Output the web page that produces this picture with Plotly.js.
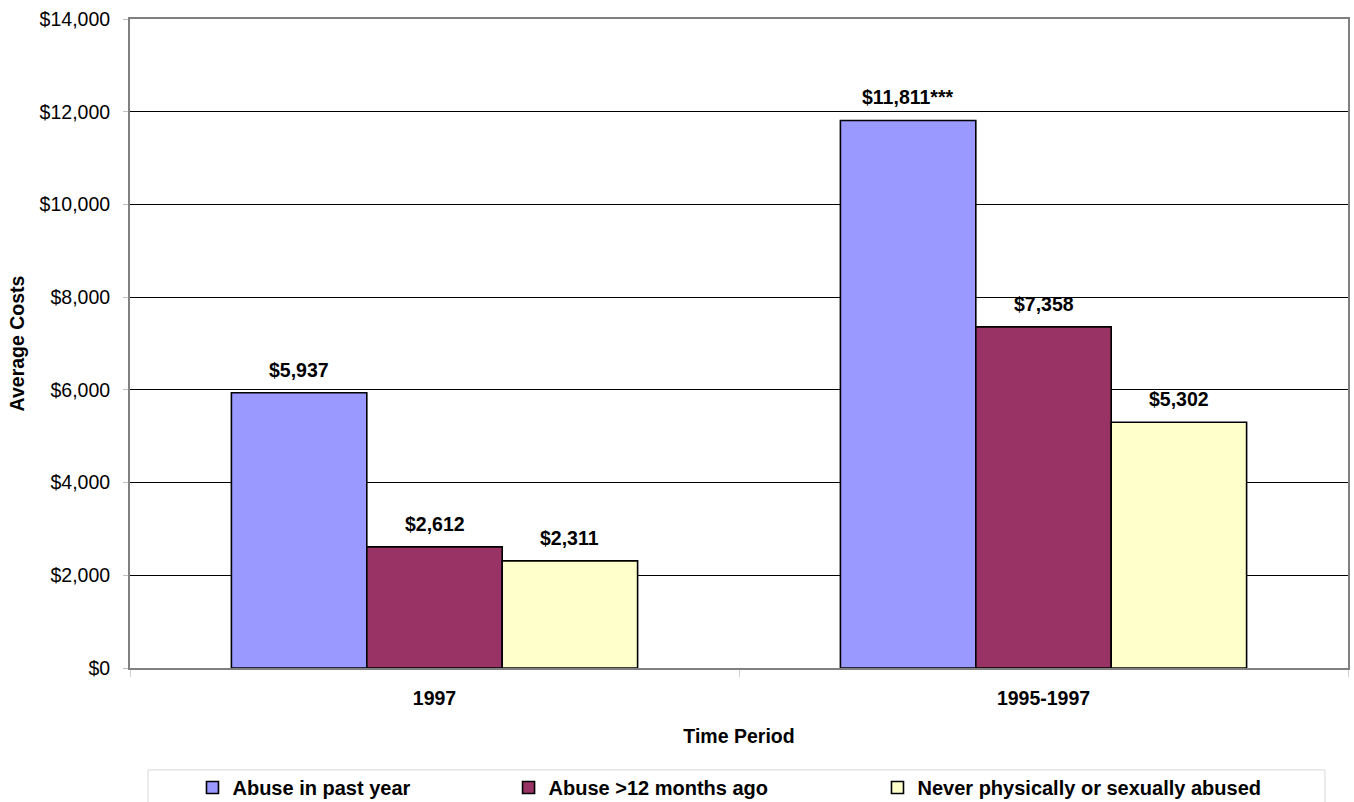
<!DOCTYPE html>
<html>
<head>
<meta charset="utf-8">
<script src="https://cdn.plot.ly/plotly-3.0.1.min.js"></script>
<style>html,body{margin:0;padding:0;background:#fff;}#chart{width:1354px;height:802px;}</style>
</head>
<body>
<div id="chart"></div>
<script>
const categories = ["1997", "1995-1997"];
const seriesNames = ["Abuse in past year", "Abuse >12 months ago", "Never physically or sexually abused"];
const pastYear = [5937, 11811];
const over12Months = [2612, 7358];
const neverAbused = [2311, 5302];
const pastYearSuffix = ["", "***"];
const colors = ["#9999FF", "#993366", "#FFFFCC"];

const FONT = "Liberation Sans, Arial, sans-serif";
function fmt(v) { return "$" + v.toLocaleString("en-US"); }

const allVals = [pastYear, over12Months, neverAbused];
const sufs = [pastYearSuffix, null, null];
const legendIds = ["legend", "legend2", "legend3"];

const traces = allVals.map((vals, k) => ({
  type: "bar",
  name: seriesNames[k],
  legend: legendIds[k],
  x: categories,
  y: vals,
  marker: {color: colors[k], line: {color: "#000", width: 1.6}},
  hoverinfo: "skip"
}));

// bar width in px: plot width / categories * (1 - bargap) / series count
const plotW = 1354 - 130 - 6;
const bargap = 0.333;
const barPx = plotW / categories.length * (1 - bargap) / allVals.length;

const annotations = [];
allVals.forEach((vals, k) => {
  vals.forEach((v, i) => {
    annotations.push({
      x: i, y: v, xref: "x", yref: "y",
      text: fmt(v) + (sufs[k] ? sufs[k][i] : ""),
      showarrow: false, xanchor: "center", yanchor: "bottom",
      xshift: (k - 1) * barPx, yshift: 10,
      font: {family: FONT, size: 19.5, weight: "bold", color: "#000"}
    });
  });
});

const legendBase = {
  orientation: "h", yref: "container", y: 0.0424, yanchor: "top", xanchor: "left",
  bgcolor: "rgba(0,0,0,0)", borderwidth: 0,
  font: {family: FONT, size: 20, weight: "bold", color: "#000"}
};

const layout = {
  width: 1354, height: 802,
  margin: {l: 130, r: 6, t: 19, b: 134},
  paper_bgcolor: "#fff", plot_bgcolor: "#fff",
  barmode: "group", bargap: bargap, bargroupgap: 0,
  font: {family: FONT, size: 19.5, color: "#000"},
  showlegend: true,
  legend: Object.assign({}, legendBase, {x: 0.0513}),
  legend2: Object.assign({}, legendBase, {x: 0.3108}),
  legend3: Object.assign({}, legendBase, {x: 0.6137}),
  annotations: annotations,
  shapes: [{
    type: "rect", xref: "paper", yref: "paper",
    x0: 0.01478, x1: 0.9811, y0: -0.157, y1: -0.25,
    line: {color: "#d9d9d9", width: 1}, fillcolor: "rgba(0,0,0,0)", layer: "below"
  }],
  xaxis: {
    type: "category", automargin: false,
    categoryorder: "array", categoryarray: categories,
    range: [-0.5, categories.length - 0.5], autorange: false,
    showline: true, linecolor: "#808080", linewidth: 2, mirror: true,
    ticks: "outside", tickson: "boundaries", ticklen: 7, tickcolor: "#d0d0d0",
    ticklabelstandoff: 12, tickangle: 0,
    tickfont: {family: FONT, size: 19.5, weight: "bold"},
    title: {text: "Time Period", font: {family: FONT, size: 19.5, weight: "bold"}, standoff: 21}
  },
  yaxis: {
    range: [0, 14000], autorange: false, dtick: 2000, tickprefix: "$", tickformat: ",",
    automargin: false,
    showgrid: true, gridcolor: "#000", gridwidth: 1,
    showline: true, linecolor: "#808080", linewidth: 2, mirror: true,
    ticks: "outside", ticklen: 5, tickcolor: "#c0c0c0",
    ticklabelstandoff: 9,
    tickfont: {family: FONT, size: 19.5},
    zeroline: false,
    title: {text: "Average Costs", font: {family: FONT, size: 19.5, weight: "bold"}, standoff: 10}
  }
};

Plotly.newPlot("chart", traces, layout, {displayModeBar: false, staticPlot: true});
</script>
</body>
</html>
